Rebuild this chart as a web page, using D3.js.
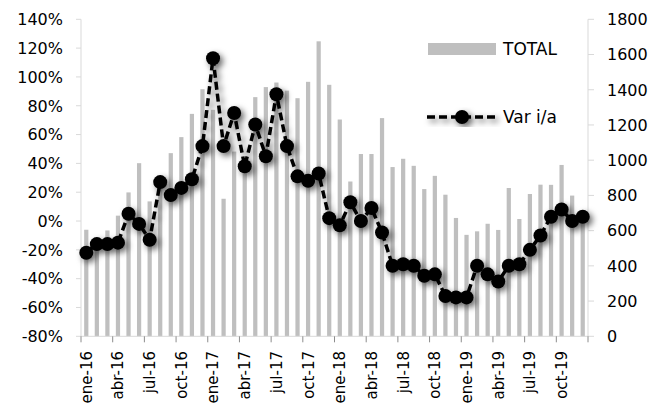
<!DOCTYPE html>
<html>
<head>
<meta charset="utf-8">
<script src="https://cdn.jsdelivr.net/npm/d3@7"></script>
<style>
    body { margin: 0; background: #fff; }
    text { font-family: "DejaVu Sans", sans-serif; fill: #000; }
</style>
</head>
<body>
<svg id="chart" width="667" height="412"></svg>
<script>
// Data
const monthNames = ['ene', 'feb', 'mar', 'abr', 'may', 'jun', 'jul', 'ago', 'sep', 'oct', 'nov', 'dic'];
const years = ['16', '17', '18', '19'];
const months = years.flatMap(y => monthNames.map(m => m + '-' + y));

const total = [605, 514, 601, 685, 817, 983, 766, 910, 1040, 1131, 1263, 1403,
               1286, 781, 1049, 945, 1358, 1415, 1441, 1395, 1352, 1445, 1675, 1428,
               1231, 879, 1035, 1035, 1239, 961, 1008, 968, 836, 911, 804, 672,
               576, 596, 639, 604, 842, 666, 808, 861, 860, 973, 799, 695];

const varIA = [-0.22, -0.16, -0.16, -0.15, 0.05, -0.02, -0.13, 0.27, 0.18, 0.23, 0.29, 0.52,
               1.13, 0.52, 0.75, 0.38, 0.67, 0.45, 0.88, 0.52, 0.31, 0.28, 0.33, 0.02,
               -0.03, 0.13, 0.0, 0.09, -0.08, -0.31, -0.30, -0.31, -0.38, -0.37, -0.52, -0.53,
               -0.53, -0.31, -0.37, -0.42, -0.31, -0.30, -0.20, -0.10, 0.03, 0.08, 0.0, 0.03];

const pctTicks = [-0.8, -0.6, -0.4, -0.2, 0, 0.2, 0.4, 0.6, 0.8, 1.0, 1.2, 1.4];
const totalTicks = [0, 200, 400, 600, 800, 1000, 1200, 1400, 1600, 1800];

// Layout
const plot = { left: 81, right: 588, top: 19.3, bottom: 336.3 };
const svg = d3.select('#chart');

const xCat = d3.scaleBand().domain(months).range([plot.left, plot.right]).padding(0);
const xBar = d3.scaleBand().domain(months).range([plot.left, plot.right])
    .paddingInner(0.6).paddingOuter(0.3);
const yPct = d3.scaleLinear().domain([-0.8, 1.4]).range([plot.bottom, plot.top]);
const yTot = d3.scaleLinear().domain([0, 1800]).range([plot.bottom, plot.top]);

// Drop shadow for the line series
const defs = svg.append('defs');
const shadow = defs.append('filter').attr('id', 'shadow')
    .attr('x', '-20%').attr('y', '-20%').attr('width', '140%').attr('height', '140%');
shadow.append('feDropShadow')
    .attr('dx', 3).attr('dy', 3)
    .attr('stdDeviation', 3)
    .attr('flood-color', '#000')
    .attr('flood-opacity', 0.6);

// Bars (right axis)
svg.append('g').selectAll('rect')
    .data(total)
    .enter().append('rect')
    .attr('x', (d, i) => xBar(months[i]))
    .attr('y', d => yTot(d))
    .attr('width', xBar.bandwidth())
    .attr('height', d => yTot(0) - yTot(d))
    .attr('fill', '#bfbfbf');

// Left axis
const axisColor = '#d9d9d9';
svg.append('line')
    .attr('x1', plot.left).attr('x2', plot.left)
    .attr('y1', plot.top).attr('y2', plot.bottom)
    .attr('stroke', axisColor);
const leftAxis = svg.append('g');
leftAxis.selectAll('line').data(pctTicks).enter().append('line')
    .attr('x1', plot.left - 5).attr('x2', plot.left)
    .attr('y1', d => yPct(d)).attr('y2', d => yPct(d))
    .attr('stroke', axisColor);
leftAxis.selectAll('text').data(pctTicks).enter().append('text')
    .attr('x', 63)
    .attr('y', d => yPct(d))
    .attr('dy', '0.36em')
    .attr('text-anchor', 'end')
    .style('font-size', '16px')
    .text(d => Math.round(d * 100) + '%');

// Right axis
svg.append('line')
    .attr('x1', plot.right).attr('x2', plot.right)
    .attr('y1', plot.top).attr('y2', plot.bottom)
    .attr('stroke', axisColor);
const rightAxis = svg.append('g');
rightAxis.selectAll('line').data(totalTicks).enter().append('line')
    .attr('x1', plot.right).attr('x2', plot.right + 6)
    .attr('y1', d => yTot(d)).attr('y2', d => yTot(d))
    .attr('stroke', axisColor);
rightAxis.selectAll('text').data(totalTicks).enter().append('text')
    .attr('x', 607)
    .attr('y', d => yTot(d))
    .attr('dy', '0.36em')
    .style('font-size', '16px')
    .text(d => d);

// Bottom axis: tick every 3 months at category boundaries
svg.append('line')
    .attr('x1', plot.left).attr('x2', plot.right)
    .attr('y1', plot.bottom).attr('y2', plot.bottom)
    .attr('stroke', axisColor);
const quarterMonths = months.filter((m, i) => i % 3 === 0);
const bottomAxis = svg.append('g');
bottomAxis.selectAll('line')
    .data(quarterMonths.map(m => xCat(m)).concat([plot.right]))
    .enter().append('line')
    .attr('x1', d => d).attr('x2', d => d)
    .attr('y1', plot.bottom).attr('y2', plot.bottom + 6)
    .attr('stroke', '#8c8c8c');
bottomAxis.selectAll('text').data(quarterMonths).enter().append('text')
    .attr('transform', d => `translate(${xCat(d) + xCat.bandwidth() / 2}, 351) rotate(-90)`)
    .attr('dy', '0.36em')
    .attr('text-anchor', 'end')
    .style('font-size', '15px')
    .text(d => d);

// Line series (left axis)
const lineGen = d3.line()
    .x((d, i) => xCat(months[i]) + xCat.bandwidth() / 2)
    .y(d => yPct(d));
const series = svg.append('g').attr('filter', 'url(#shadow)');
series.append('path')
    .datum(varIA)
    .attr('d', lineGen)
    .attr('fill', 'none')
    .attr('stroke', '#000')
    .attr('stroke-width', 3.5)
    .attr('stroke-dasharray', '8,4');
series.selectAll('circle').data(varIA).enter().append('circle')
    .attr('cx', (d, i) => xCat(months[i]) + xCat.bandwidth() / 2)
    .attr('cy', d => yPct(d))
    .attr('r', 7)
    .attr('fill', '#000');

// Legend
const legend = svg.append('g');
legend.append('rect')
    .attr('x', 428).attr('y', 43)
    .attr('width', 68).attr('height', 12)
    .attr('fill', '#bfbfbf');
legend.append('text')
    .attr('x', 503).attr('y', 49)
    .attr('dy', '0.36em')
    .style('font-size', '17px')
    .text('TOTAL');
const legendLine = legend.append('g').attr('filter', 'url(#shadow)');
legendLine.append('line')
    .attr('x1', 427).attr('x2', 497)
    .attr('y1', 117).attr('y2', 117)
    .attr('stroke', '#000')
    .attr('stroke-width', 3.5)
    .attr('stroke-dasharray', '8,4');
legendLine.append('circle')
    .attr('cx', 462).attr('cy', 117).attr('r', 7)
    .attr('fill', '#000');
legend.append('text')
    .attr('x', 503).attr('y', 117)
    .attr('dy', '0.36em')
    .style('font-size', '17px')
    .text('Var i/a');
</script>
</body>
</html>
